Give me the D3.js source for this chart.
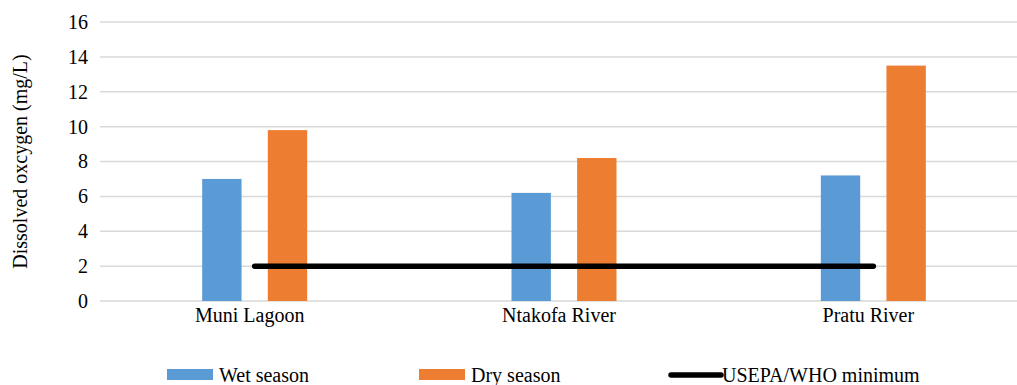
<!DOCTYPE html>
<html>
<head>
<meta charset="utf-8">
<script src="https://cdn.jsdelivr.net/npm/d3@7"></script>
<style>
  html, body { margin: 0; padding: 0; background: #fff; }
  svg { display: block; }
</style>
</head>
<body>
<svg id="chart" width="1017" height="385"></svg>
<script>
// Sites and seasonal dissolved oxygen readings (mg/L)
const sites = ["Muni Lagoon", "Ntakofa River", "Pratu River"];
const wetSeason = [7.0, 6.2, 7.2];
const drySeason = [9.8, 8.2, 13.5];
const guidelineMin = [2, 2, 2];
const yTicks = [0, 2, 4, 6, 8, 10, 12, 14, 16];

const seasonNames = ["Wet season", "Dry season"];
const seasonColors = ["#5B9BD5", "#ED7D31"];
const lineName = "USEPA/WHO minimum";

const FS = "20px";

const svg = d3.select("#chart");
const plot = { left: 100, right: 1028, top: 22, bottom: 301 };

const x = d3.scaleBand().domain(sites).range([plot.left, plot.right]);
const inner = d3.scaleBand().domain(seasonNames).range([-52.5, 52.5]).paddingInner(0.4);
const y = d3.scaleLinear().domain([0, 16]).range([plot.bottom, plot.top]);

// Horizontal gridlines
svg.append("g")
  .selectAll("line")
  .data(yTicks)
  .join("line")
  .attr("x1", plot.left).attr("x2", plot.right)
  .attr("y1", d => y(d)).attr("y2", d => y(d))
  .attr("stroke", "#d9d9d9").attr("stroke-width", 1.5);

// Y axis tick labels (default serif face)
const yAxis = d3.axisLeft(y).tickValues(yTicks).tickSize(0).tickPadding(12);
svg.append("g")
  .attr("transform", `translate(${plot.left},0)`)
  .call(yAxis)
  .attr("font-family", null)
  .attr("font-size", null)
  .call(g => g.select(".domain").remove())
  .selectAll("text")
  .style("font-size", FS)
  .attr("fill", "#000");

// Y axis title
svg.append("text")
  .attr("transform", `translate(27,${(plot.top + plot.bottom) / 2}) rotate(-90)`)
  .attr("text-anchor", "middle")
  .style("font-size", FS)
  .attr("fill", "#000")
  .text("Dissolved oxcygen (mg/L)");

// Bars
const rows = sites.map((s, i) => ({ site: s, values: [wetSeason[i], drySeason[i]] }));
const groups = svg.append("g").selectAll("g")
  .data(rows)
  .join("g")
  .attr("transform", d => `translate(${x(d.site) + x.bandwidth() / 2},0)`);

groups.selectAll("rect")
  .data(d => d.values.map((v, k) => ({ key: seasonNames[k], v, k })))
  .join("rect")
  .attr("x", d => inner(d.key))
  .attr("width", inner.bandwidth())
  .attr("y", d => y(d.v))
  .attr("height", d => y(0) - y(d.v))
  .attr("fill", d => seasonColors[d.k]);

// X axis category labels
const xAxis = d3.axisBottom(x).tickSize(0).tickPadding(7);
svg.append("g")
  .attr("transform", `translate(-5,${plot.bottom})`)
  .call(xAxis)
  .attr("font-family", null)
  .attr("font-size", null)
  .call(g => g.select(".domain").remove())
  .selectAll("text")
  .style("font-size", FS)
  .attr("fill", "#000");

// Guideline minimum line
const line = d3.line()
  .x((d, i) => x(sites[i]) + x.bandwidth() / 2)
  .y(d => y(d));
svg.append("path")
  .datum(guidelineMin)
  .attr("d", line)
  .attr("fill", "none")
  .attr("stroke", "#000")
  .attr("stroke-width", 5.5)
  .attr("stroke-linecap", "round");

// Legend
const legend = svg.append("g");
const legendY = 375;
const legendItems = [
  { name: seasonNames[0], type: "rect", color: seasonColors[0], x: 167 },
  { name: seasonNames[1], type: "rect", color: seasonColors[1], x: 419 },
  { name: lineName, type: "line", color: "#000", x: 671 }
];
legendItems.forEach(it => {
  if (it.type === "rect") {
    legend.append("rect")
      .attr("x", it.x).attr("y", legendY - 6)
      .attr("width", 46).attr("height", 11)
      .attr("fill", it.color);
  } else {
    legend.append("line")
      .attr("x1", it.x).attr("x2", it.x + 50)
      .attr("y1", legendY).attr("y2", legendY)
      .attr("stroke", it.color).attr("stroke-width", 5.5)
      .attr("stroke-linecap", "round");
  }
  legend.append("text")
    .attr("x", it.x + (it.type === "rect" ? 52 : 51))
    .attr("y", legendY + 7)
    .style("font-size", FS)
    .attr("fill", "#000")
    .text(it.name);
});
</script>
</body>
</html>
